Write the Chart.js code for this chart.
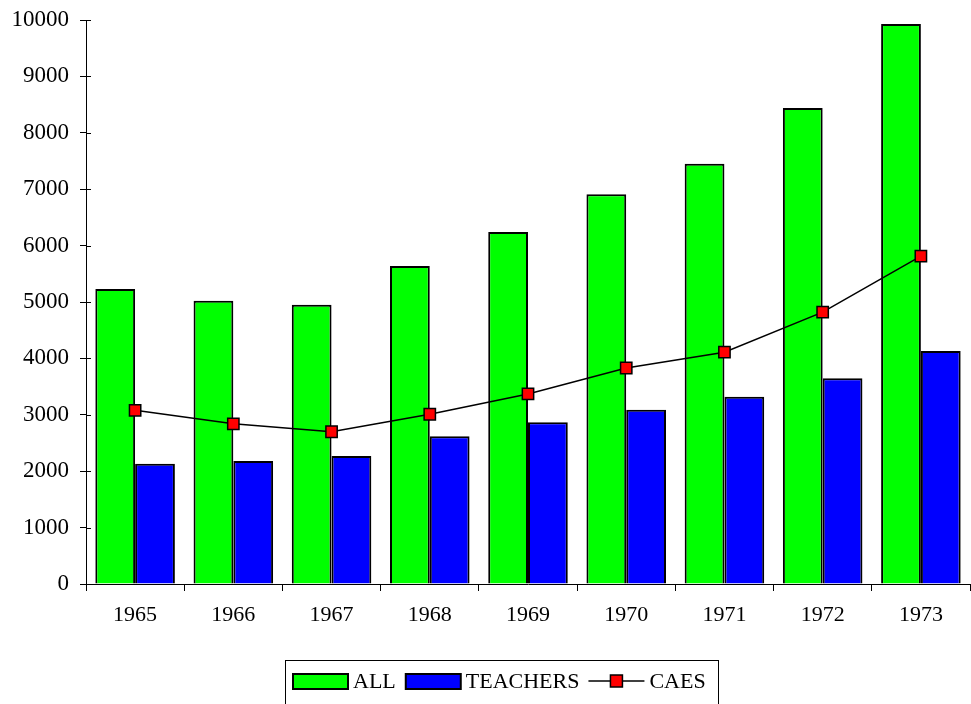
<!DOCTYPE html>
<html>
<head>
<meta charset="utf-8">
<script src="https://cdn.jsdelivr.net/npm/chart.js@4"></script>
<style>
  html, body { margin: 0; padding: 0; background: #fff; overflow: hidden; }
  #wrap { width: 971px; height: 704px; }
  canvas { display: block; }
</style>
</head>
<body>
<div id="wrap"><canvas id="chart"></canvas></div>
<script>
var years = ["1965", "1966", "1967", "1968", "1969", "1970", "1971", "1972", "1973"];
var allValues = [5230, 5020, 4950, 5640, 6240, 6910, 7450, 8440, 9930];
var teachersValues = [2130, 2180, 2270, 2620, 2870, 3090, 3320, 3650, 4130];
var caesValues = [3080, 2840, 2700, 3010, 3370, 3830, 4110, 4820, 5815];
var yTicks = [0, 1000, 2000, 3000, 4000, 5000, 6000, 7000, 8000, 9000, 10000];

var serif = "'Liberation Serif', 'DejaVu Serif', serif";

// boxed legend under the axis, drawn by hand
var boxLegend = {
  id: "boxLegend",
  afterDraw: function (chart) {
    var ctx = chart.ctx;
    ctx.save();
    ctx.font = "22px " + serif;
    ctx.textBaseline = "middle";
    ctx.fillStyle = "#000";
    ctx.strokeStyle = "#000";
    ctx.lineWidth = 1;
    ctx.strokeRect(285.5, 660.5, 433, 60);

    var y = 681;
    var x = 293;
    chart.data.datasets.forEach(function (ds) {
      ctx.lineWidth = 2;
      if (ds.type === "line") {
        ctx.lineWidth = 1.5;
        ctx.beginPath();
        ctx.moveTo(x - 1, y);
        ctx.lineTo(x + 55, y);
        ctx.stroke();
        ctx.fillStyle = ds.pointBackgroundColor;
        ctx.fillRect(x + 21, y - 6, 12, 12);
        ctx.strokeRect(x + 21, y - 6, 12, 12);
      } else {
        ctx.fillStyle = ds.backgroundColor;
        ctx.fillRect(x, y - 7, 55, 15);
        ctx.strokeRect(x, y - 7, 55, 15);
      }
      ctx.fillStyle = "#000";
      x += 60;
      ctx.fillText(ds.label, x, y + 1);
      x += ctx.measureText(ds.label).width + 10;
    });
    ctx.restore();
  }
};

// short marks on the inside of the value axis
var innerTicks = {
  id: "innerTicks",
  afterDraw: function (chart) {
    var ctx = chart.ctx;
    var ys = chart.scales.y;
    ctx.save();
    ctx.strokeStyle = "#000";
    ctx.lineWidth = 1;
    yTicks.forEach(function (v) {
      var py = Math.round(ys.getPixelForValue(v)) + 0.5;
      ctx.beginPath();
      ctx.moveTo(ys.right, py);
      ctx.lineTo(ys.right + 5, py);
      ctx.stroke();
    });
    ctx.restore();
  }
};

var ctx = document.getElementById("chart").getContext("2d");
var chart = new Chart(ctx, {
  type: "bar",
  data: {
    labels: years,
    datasets: [
      {
        label: "ALL",
        data: allValues,
        backgroundColor: "#00ff00",
        borderColor: "#000",
        borderWidth: 2,
        categoryPercentage: 0.81,
        barPercentage: 1,
        order: 1
      },
      {
        label: "TEACHERS",
        data: teachersValues,
        backgroundColor: "#0000ff",
        borderColor: "#000",
        borderWidth: 2,
        categoryPercentage: 0.81,
        barPercentage: 1,
        order: 1
      },
      {
        type: "line",
        label: "CAES",
        data: caesValues,
        borderColor: "#000",
        borderWidth: 1.5,
        pointStyle: "rect",
        pointRadius: 8,
        pointBorderWidth: 1.5,
        pointBorderColor: "#000",
        pointBackgroundColor: "#ff0000",
        fill: false,
        tension: 0,
        clip: false,
        order: 0
      }
    ]
  },
  options: {
    responsive: true,
    maintainAspectRatio: false,
    animation: false,
    layout: { autoPadding: false, padding: { top: 20, right: 1, bottom: 54, left: 0 } },
    plugins: {
      legend: { display: false },
      tooltip: { enabled: false }
    },
    scales: {
      x: {
        offset: true,
        grid: {
          offset: true,
          drawOnChartArea: false,
          drawTicks: true,
          tickLength: 7,
          color: "#000"
        },
        border: { color: "#000", width: 1 },
        ticks: {
          color: "#000",
          font: { family: serif, size: 22 },
          padding: 11,
          maxRotation: 0
        },
        afterFit: function (scale) {
          scale.height = 66;
          scale.paddingLeft = 0;
          scale.paddingRight = 0;
        }
      },
      y: {
        min: 0,
        max: 10000,
        afterBuildTicks: function (scale) {
          scale.ticks = yTicks.map(function (v) { return { value: v }; });
        },
        grid: {
          drawOnChartArea: false,
          drawTicks: true,
          tickLength: 6,
          color: "#000"
        },
        border: { color: "#000", width: 1 },
        ticks: {
          color: "#000",
          font: { family: serif, size: 23 },
          padding: 11,
          callback: function (v) { return String(v); }
        },
        afterFit: function (scale) {
          scale.width = 86;
          scale.paddingTop = 0;
          scale.paddingBottom = 0;
        }
      }
    }
  },
  plugins: [boxLegend, innerTicks]
});
</script>
</body>
</html>
